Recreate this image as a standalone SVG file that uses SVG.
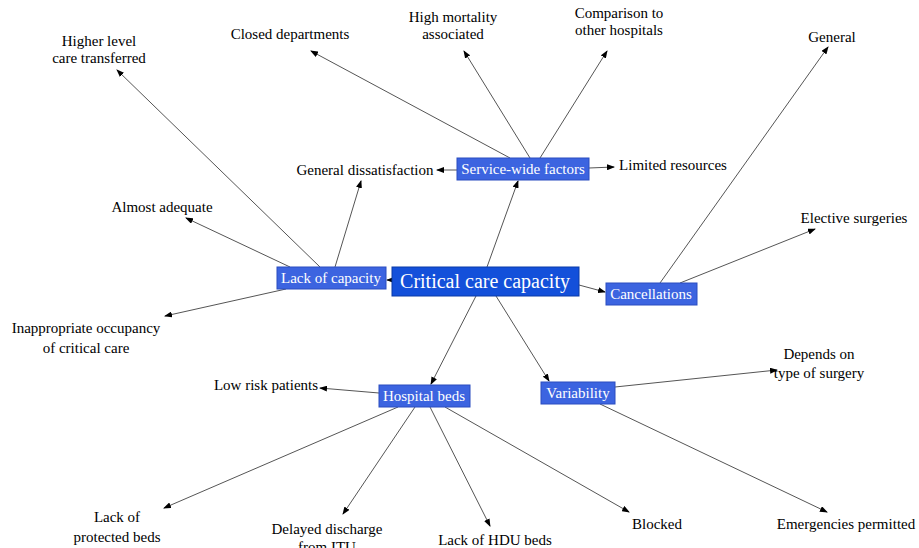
<svg xmlns="http://www.w3.org/2000/svg" width="919" height="548" viewBox="0 0 919 548">
<style>
.e{stroke:#555;stroke-width:1;fill:none;marker-end:url(#ah)}
.t{font-family:"Liberation Serif","Times New Roman",serif;font-size:15px;fill:#000;text-anchor:middle}
.n rect{fill:#3c64e0;stroke:#2a4cc0;stroke-width:1}
.n text{font-family:"Liberation Serif","Times New Roman",serif;font-size:15px;fill:#fff;text-anchor:middle}
#center rect{fill:#1350da;stroke:#0a3aa8}
#center text{font-size:20px}
</style>
<defs>
<marker id="ah" markerWidth="8" markerHeight="6" refX="7" refY="3" orient="auto" markerUnits="userSpaceOnUse">
<path d="M0,0 L8,3 L0,6 Z" fill="#000"/>
</marker>
</defs>
<rect width="919" height="548" fill="#fff"/>
<g id="edges">
<line class="e" x1="487" y1="267" x2="518" y2="181"/>
<line class="e" x1="392" y1="280" x2="387" y2="280"/>
<line class="e" x1="579" y1="285" x2="605" y2="292"/>
<line class="e" x1="476" y1="296" x2="431" y2="384"/>
<line class="e" x1="496" y1="296" x2="549" y2="381"/>
<line class="e" x1="510" y1="158" x2="311" y2="51"/>
<line class="e" x1="530" y1="158" x2="464" y2="51"/>
<line class="e" x1="540" y1="158" x2="607" y2="51"/>
<line class="e" x1="457" y1="170" x2="437" y2="170"/>
<line class="e" x1="589" y1="168" x2="614" y2="167"/>
<line class="e" x1="320" y1="267" x2="117" y2="70"/>
<line class="e" x1="290" y1="267" x2="186" y2="218"/>
<line class="e" x1="335" y1="267" x2="361" y2="181"/>
<line class="e" x1="286" y1="289" x2="165" y2="316"/>
<line class="e" x1="660" y1="283" x2="828" y2="47"/>
<line class="e" x1="680" y1="283" x2="815" y2="229"/>
<line class="e" x1="379" y1="393" x2="320" y2="388"/>
<line class="e" x1="398" y1="407" x2="164" y2="508"/>
<line class="e" x1="415" y1="407" x2="343" y2="514"/>
<line class="e" x1="430" y1="407" x2="490" y2="526"/>
<line class="e" x1="445" y1="407" x2="629" y2="512"/>
<line class="e" x1="615" y1="387" x2="777" y2="370"/>
<line class="e" x1="600" y1="404" x2="827" y2="512"/>
</g>
<g id="center" class="n"><rect x="392" y="267" width="187" height="29"/><text x="485" y="288">Critical care capacity</text></g>
<g id="service" class="n"><rect x="457" y="158" width="132" height="22"/><text x="523" y="174">Service-wide factors</text></g>
<g id="lack" class="n"><rect x="277" y="267" width="109" height="22"/><text x="331" y="283">Lack of capacity</text></g>
<g id="cancellations" class="n"><rect x="606" y="283" width="91" height="22"/><text x="651" y="299">Cancellations</text></g>
<g id="beds" class="n"><rect x="379" y="385" width="91" height="22"/><text x="424" y="401">Hospital beds</text></g>
<g id="variability" class="n"><rect x="541" y="382" width="74" height="22"/><text x="578" y="398">Variability</text></g>
<g id="higher"><text class="t" x="99" y="46">Higher level</text><text class="t" x="99" y="63">care transferred</text></g>
<g id="closed"><text class="t" x="290" y="39">Closed departments</text></g>
<g id="mortality"><text class="t" x="453" y="22">High mortality</text><text class="t" x="453" y="39">associated</text></g>
<g id="comparison"><text class="t" x="619" y="18">Comparison to</text><text class="t" x="619" y="35">other hospitals</text></g>
<g id="general"><text class="t" x="832" y="42">General</text></g>
<g id="dissatisfaction"><text class="t" x="365" y="175">General dissatisfaction</text></g>
<g id="limited"><text class="t" x="673" y="170">Limited resources</text></g>
<g id="almost"><text class="t" x="162" y="212">Almost adequate</text></g>
<g id="elective"><text class="t" x="854" y="223">Elective surgeries</text></g>
<g id="inappropriate"><text class="t" x="86" y="333">Inappropriate occupancy</text><text class="t" x="86" y="353">of critical care</text></g>
<g id="lowrisk"><text class="t" x="266" y="390">Low risk patients</text></g>
<g id="depends"><text class="t" x="819" y="359">Depends on</text><text class="t" x="819" y="378">type of surgery</text></g>
<g id="protected"><text class="t" x="117" y="522">Lack of</text><text class="t" x="117" y="542">protected beds</text></g>
<g id="delayed"><text class="t" x="327" y="534">Delayed discharge</text><text class="t" x="327" y="552">from ITU</text></g>
<g id="hdu"><text class="t" x="495" y="545">Lack of HDU beds</text></g>
<g id="blocked"><text class="t" x="657" y="529">Blocked</text></g>
<g id="emergencies"><text class="t" x="846" y="529">Emergencies permitted</text></g>
</svg>
